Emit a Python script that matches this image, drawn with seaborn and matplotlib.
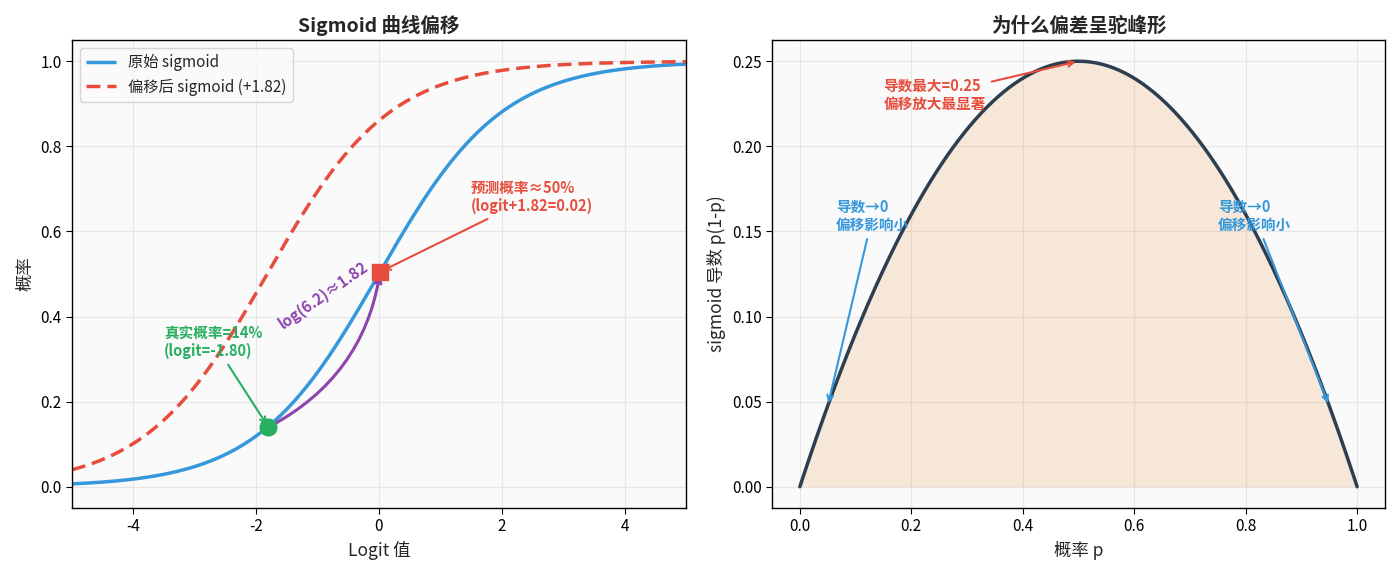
import numpy as np
import pandas as pd
import matplotlib
matplotlib.use("Agg")
import matplotlib.pyplot as plt
import seaborn as sns

# ---- data ----
logit_grid = np.linspace(-5, 5, 400)
shift = 1.82
true_logit = -1.80
true_prob = 0.14
pred_logit = 0.02
pred_prob = 0.505
prob_grid = np.linspace(0, 1, 400)
peak_p = 0.5
peak_d = 0.25
left_p = 0.05
right_p = 0.95
xticks_left = [-4, -2, 0, 2, 4]
yticks_left = [0.0, 0.2, 0.4, 0.6, 0.8, 1.0]

sig = 1 / (1 + np.exp(-logit_grid))
sig_shift = 1 / (1 + np.exp(-(logit_grid + shift)))
deriv = prob_grid * (1 - prob_grid)

df_left = pd.DataFrame({"x": np.concatenate([logit_grid, logit_grid]),
                        "y": np.concatenate([sig, sig_shift]),
                        "s": ["原始 sigmoid"] * len(logit_grid) + ["偏移后 sigmoid (+1.82)"] * len(logit_grid)})
df_right = pd.DataFrame({"p": prob_grid, "d": deriv})

sns.set_style("whitegrid", {"axes.facecolor": "#fafafa", "axes.edgecolor": "black",
                            "grid.color": "#e6e6e6", "xtick.bottom": True, "ytick.left": True})
plt.rcParams["font.family"] = ["Noto Sans CJK SC", "DejaVu Sans"]
plt.rcParams["axes.unicode_minus"] = False
plt.rcParams["xtick.major.size"] = 4
plt.rcParams["ytick.major.size"] = 4
plt.rcParams["xtick.color"] = "black"
plt.rcParams["ytick.color"] = "black"

BLUE = "#3498db"; RED = "#e74c3c"; GREEN = "#27ae60"; PURPLE = "#8e44ad"; DARK = "#2c3e50"

fig = plt.figure(figsize=(13.97, 5.75), dpi=100)
ax1 = fig.add_axes([0.0515, 0.1165, 0.4395, 0.814])
ax2 = fig.add_axes([0.5526, 0.1165, 0.4388, 0.814])

# ---- left ----
sns.lineplot(data=df_left, x="x", y="y", hue="s", style="s",
             palette=[BLUE, RED], dashes=[(1, 0), (4, 2)], linewidth=2.5, ax=ax1, sort=False)
ax1.plot([true_logit], [true_prob], "o", color=GREEN, markersize=12, zorder=5)
ax1.plot([pred_logit], [pred_prob], "s", color=RED, markersize=12, zorder=5)
ax1.annotate("", xy=(pred_logit, pred_prob), xytext=(true_logit, true_prob),
             arrowprops=dict(arrowstyle="->", color=PURPLE, lw=2.2,
                             connectionstyle="arc3,rad=0.25"), zorder=4)
ax1.text(-0.9, 0.45, "log(6.2)≈1.82", color=PURPLE, fontsize=11, fontweight="bold",
         rotation=35, ha="center", va="center")
ax1.annotate("真实概率=14%\n(logit=-1.80)", xy=(true_logit, true_prob), xytext=(-3.5, 0.30),
             color=GREEN, fontsize=10.5, fontweight="bold", ha="left", va="bottom",
             arrowprops=dict(arrowstyle="->", color=GREEN, lw=1.5))
ax1.annotate("预测概率≈50%\n(logit+1.82=0.02)", xy=(pred_logit, pred_prob), xytext=(1.5, 0.64),
             color=RED, fontsize=10.5, fontweight="bold", ha="left", va="bottom",
             arrowprops=dict(arrowstyle="->", color=RED, lw=1.5))
ax1.set_xlim(-5, 5)
ax1.set_ylim(-0.05, 1.05)
ax1.set_xticks(xticks_left)
ax1.set_yticks(yticks_left)
ax1.set_xlabel("Logit 值", fontsize=12.5)
ax1.set_ylabel("概率", fontsize=12.5)
ax1.set_title("Sigmoid 曲线偏移", fontsize=14, fontweight="bold")
ax1.tick_params(labelsize=11)
leg = ax1.legend(loc="upper left", fontsize=11, frameon=True)
leg.get_frame().set_edgecolor("#cccccc")

# ---- right ----
ax2.fill_between(df_right["p"], 0, df_right["d"], color="#e67e22", alpha=0.15, linewidth=0)
sns.lineplot(data=df_right, x="p", y="d", color=DARK, linewidth=2.5, ax=ax2)
ax2.annotate("导数最大=0.25\n偏移放大最显著", xy=(peak_p, peak_d), xytext=(0.15, 0.22),
             color=RED, fontsize=10.5, fontweight="bold", ha="left", va="bottom",
             arrowprops=dict(arrowstyle="->", color=RED, lw=1.5))
ax2.annotate("导数→0\n偏移影响小", xy=(left_p, left_p * (1 - left_p)), xytext=(0.065, 0.149),
             color=BLUE, fontsize=10.5, fontweight="bold", ha="left", va="bottom",
             arrowprops=dict(arrowstyle="->", color=BLUE, lw=1.5))
ax2.annotate("导数→0\n偏移影响小", xy=(right_p, right_p * (1 - right_p)), xytext=(0.75, 0.149),
             color=BLUE, fontsize=10.5, fontweight="bold", ha="left", va="bottom",
             arrowprops=dict(arrowstyle="->", color=BLUE, lw=1.5))
ax2.set_xlabel("概率 p", fontsize=12.5)
ax2.set_ylabel("sigmoid 导数 p(1-p)", fontsize=12.5)
ax2.set_title("为什么偏差呈驼峰形", fontsize=14, fontweight="bold")
ax2.tick_params(labelsize=11)

for ax in (ax1, ax2):
    for s in ax.spines.values():
        s.set_color("black"); s.set_linewidth(1.0)

fig.savefig("out.png", dpi=100)
